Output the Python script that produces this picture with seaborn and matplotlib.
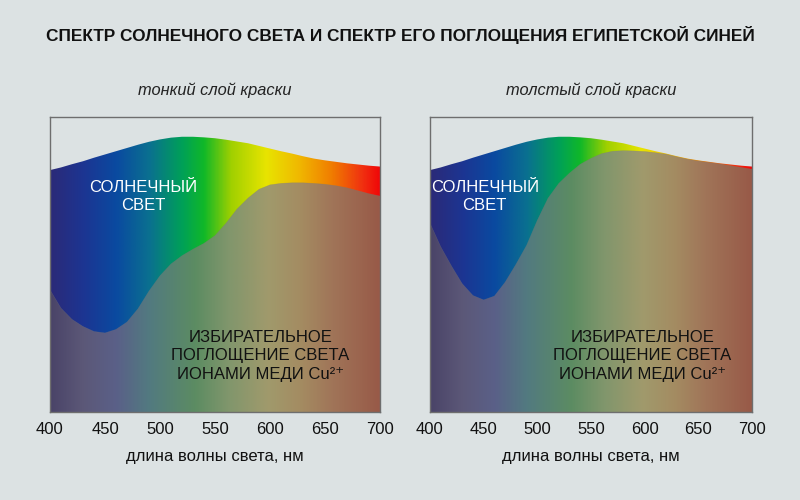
import matplotlib
matplotlib.use("Agg")
import matplotlib.pyplot as plt
import numpy as np
import pandas as pd
import seaborn as sns
from matplotlib.colors import LinearSegmentedColormap, to_rgb
from matplotlib.patches import PathPatch

# wavelength grid, nm
wavelength = list(range(400, 701, 10))

# relative intensity of sunlight (same in both panels)
solar = [82.0, 82.9, 84.0, 85.0, 86.2, 87.3, 88.4, 89.5, 90.6, 91.6, 92.4,
         93.0, 93.3, 93.3, 93.1, 92.8, 92.3, 91.7, 91.1, 90.2, 89.3,
         88.4, 87.6, 86.7, 85.9, 85.3, 84.8, 84.3, 83.9, 83.5, 83.2]

# light left after absorption by Cu2+ ions
thin_layer = [41.4, 35.2, 31.4, 29.0, 27.3, 26.8, 28.0, 30.5, 35.0, 41.0, 46.2,
              50.2, 53.0, 55.2, 57.2, 59.8, 64.0, 68.8, 72.5, 75.5, 77.0,
              77.5, 77.7, 77.7, 77.5, 77.2, 76.7, 76.0, 75.0, 74.0, 73.2]
thick_layer = [64.0, 56.0, 49.5, 43.5, 39.5, 38.0, 39.3, 44.0, 50.0, 56.5, 65.0,
               72.5, 77.5, 81.0, 84.0, 86.0, 87.6, 88.4, 88.6, 88.5, 88.3,
               87.9, 87.4, 86.5, 85.7, 85.1, 84.6, 84.1, 83.5, 82.9, 82.3]

panel_titles = ["тонкий слой краски", "толстый слой краски"]
title = "СПЕКТР СОЛНЕЧНОГО СВЕТА И СПЕКТР ЕГО ПОГЛОЩЕНИЯ ЕГИПЕТСКОЙ СИНЕЙ"
xticks = [400, 450, 500, 550, 600, 650, 700]

# colour stops along the spectrum (nm, colour)
spectrum_stops = [(400, "#2b2a78"), (430, "#1c3592"), (460, "#0a4aa0"),
                  (490, "#0a7090"), (520, "#00a058"), (540, "#10b828"),
                  (565, "#a0d000"), (597, "#e8e400"), (627, "#f0b800"),
                  (657, "#f07c00"), (685, "#f03010"), (700, "#f00808")]
muted_stops = [(400, "#4a4468"), (430, "#5c5878"), (460, "#5a6088"),
               (490, "#527a80"), (532, "#5c8c62"), (562, "#80966c"),
               (598, "#a09a6c"), (628, "#a48c62"), (658, "#a07458"),
               (700, "#985a48")]

BG = "#dce2e3"

df = pd.DataFrame({"wavelength": wavelength, "solar": solar,
                   "thin": thin_layer, "thick": thick_layer})

sns.set_theme(style="white")
plt.rcParams["font.family"] = ["Liberation Sans", "DejaVu Sans"]


def make_cmap(stops):
    lo, hi = stops[0][0], stops[-1][0]
    return LinearSegmentedColormap.from_list(
        "c", [((w - lo) / (hi - lo), to_rgb(c)) for w, c in stops])


def gradient_fill(ax, x, y, cmap):
    poly = ax.fill_between(x, 0, y, facecolor="none", edgecolor="none")
    patch = PathPatch(poly.get_paths()[0], transform=ax.transData,
                      facecolor="none", edgecolor="none")
    ax.add_patch(patch)
    grad = np.linspace(0, 1, 600)[None, :]
    im = ax.imshow(grad, extent=[400, 700, 0, 100], aspect="auto",
                   cmap=cmap, origin="lower", interpolation="bilinear")
    im.set_clip_path(patch)


fig = plt.figure(figsize=(8, 5), dpi=100, facecolor=BG)
axes = [fig.add_axes([0.0625, 0.176, 0.4125, 0.59]),
        fig.add_axes([0.5375, 0.176, 0.4025, 0.59])]

spec_cmap = make_cmap(spectrum_stops)
muted_cmap = make_cmap(muted_stops)

for ax, col, sub in zip(axes, ["thin", "thick"], panel_titles):
    ax.set_facecolor(BG)
    gradient_fill(ax, df["wavelength"], df["solar"], spec_cmap)
    gradient_fill(ax, df["wavelength"], df[col], muted_cmap)
    sns.lineplot(data=df, x="wavelength", y=col, ax=ax, color="#7a7a7a",
                 linewidth=0.4, alpha=0.35)
    ax.set_xlim(400, 700)
    ax.set_ylim(0, 100)
    ax.set_xticks(xticks)
    ax.set_yticks([])
    ax.tick_params(axis="x", length=0, pad=7, labelsize=12, colors="#111111")
    ax.set_xlabel("длина волны света, нм", fontsize=12, labelpad=9,
                  color="#111111")
    ax.set_ylabel("")
    for s in ax.spines.values():
        s.set_color("#6e6e6e")
        s.set_linewidth(1.0)
    ax.set_title(sub, fontsize=11.8, style="italic", pad=16, color="#222222")

# labels inside the panels
axes[0].text(485, 73, "СОЛНЕЧНЫЙ\nСВЕТ", color="white", fontsize=12,
             ha="center", va="center", linespacing=1.3)
axes[1].text(451, 73, "СОЛНЕЧНЫЙ\nСВЕТ", color="white", fontsize=12,
             ha="center", va="center", linespacing=1.3)
absorb = "ИЗБИРАТЕЛЬНОЕ\nПОГЛОЩЕНИЕ СВЕТА\nИОНАМИ МЕДИ Cu²⁺"
axes[0].text(591, 19, absorb, color="#111111", fontsize=12, ha="center",
             va="center", linespacing=1.3)
axes[1].text(598, 19, absorb, color="#111111", fontsize=12, ha="center",
             va="center", linespacing=1.3)

fig.text(0.5, 1 - 35 / 500, title, ha="center", va="center", fontsize=12.4,
         fontweight="bold", color="#111111")

fig.savefig("out.png", dpi=100, facecolor=BG)
